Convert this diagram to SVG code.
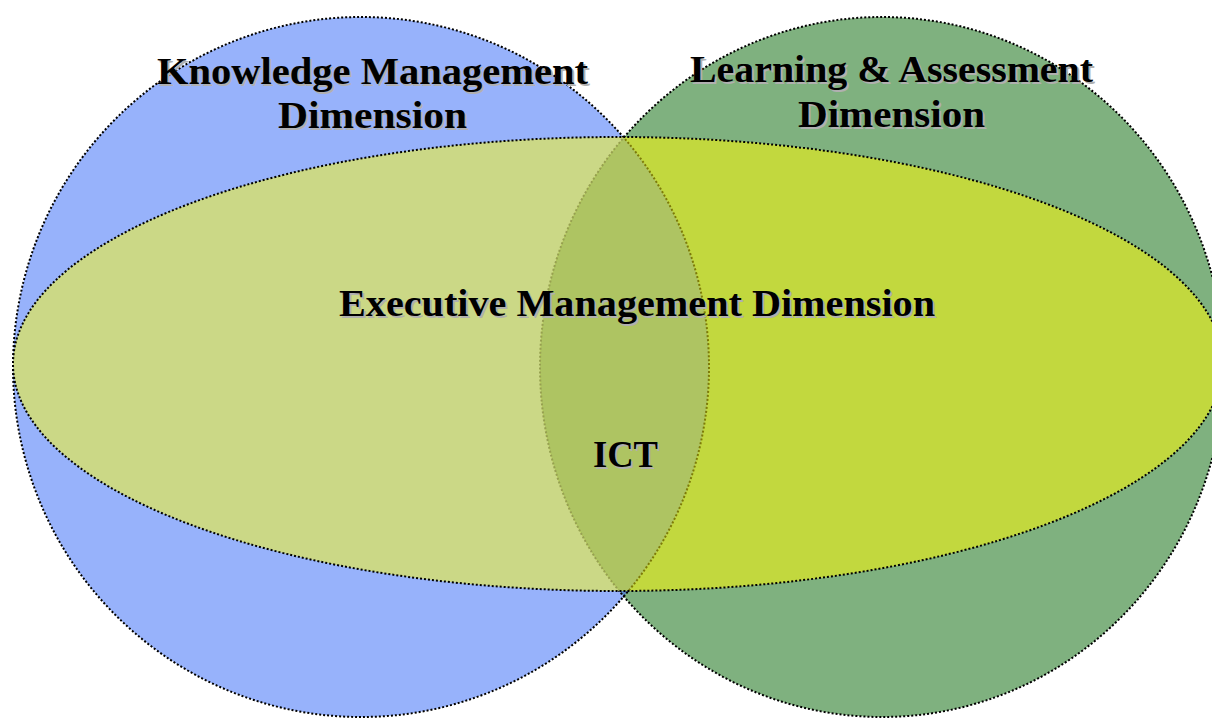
<svg xmlns="http://www.w3.org/2000/svg" width="1212" height="720" viewBox="0 0 1212 720">
  <style>
    .dot { fill: none; stroke-width: 2; stroke-dasharray: 2 2; }
    .ink { stroke: #000; }
    .label { font-family: "Liberation Serif", "Times New Roman", serif; font-weight: bold; font-size: 38px; text-anchor: middle; }
    .shadow { fill: #b0b0b0; }
    .txt { fill: #000; }
  </style>
  <defs>
    <clipPath id="clipL"><ellipse cx="361" cy="367" rx="348" ry="350"/></clipPath>
    <clipPath id="clipR"><ellipse cx="882" cy="367" rx="342" ry="350"/></clipPath>
    <clipPath id="clipE"><ellipse cx="618" cy="364" rx="605" ry="227"/></clipPath>
  </defs>

  <rect width="1212" height="720" fill="#fff"/>

  <!-- Knowledge Management circle -->
  <g id="knowledge">
    <ellipse cx="361" cy="367" rx="348" ry="350" fill="#97b2fb"/>
  </g>

  <!-- Learning & Assessment circle -->
  <g id="learning">
    <ellipse cx="882" cy="367" rx="342" ry="350" fill="#7fb17f"/>
  </g>

  <!-- overlap of the two circles (ICT) -->
  <g id="ict">
    <ellipse cx="882" cy="367" rx="342" ry="350" fill="#5b86c4" clip-path="url(#clipL)"/>
  </g>

  <!-- circle outlines -->
  <g id="circle-outlines">
    <ellipse class="dot ink" cx="361" cy="367" rx="348" ry="350"/>
    <ellipse class="dot ink" cx="882" cy="367" rx="342" ry="350"/>
  </g>

  <!-- Executive Management band -->
  <g id="executive">
    <ellipse cx="618" cy="364" rx="605" ry="227" fill="#cbd886"/>
    <ellipse cx="618" cy="364" rx="605" ry="227" fill="#c2d83e" clip-path="url(#clipR)"/>
    <g clip-path="url(#clipR)">
      <ellipse cx="618" cy="364" rx="605" ry="227" fill="#aec462" clip-path="url(#clipL)"/>
    </g>
    <!-- circle edges seen through the band -->
    <g clip-path="url(#clipE)">
      <ellipse class="dot" stroke="#7d7a08" cx="361" cy="367" rx="348" ry="350"/>
      <ellipse class="dot" stroke="#96a050" cx="882" cy="367" rx="342" ry="350"/>
    </g>
    <ellipse class="dot ink" cx="618" cy="364" rx="605" ry="227"/>
  </g>

  <!-- labels -->
  <g id="labels" class="label">
    <g class="shadow" transform="translate(2,2)">
      <text x="372.5" y="84" textLength="431" lengthAdjust="spacingAndGlyphs">Knowledge Management</text>
      <text x="372.5" y="128" textLength="189" lengthAdjust="spacingAndGlyphs">Dimension</text>
      <text x="891.5" y="82" textLength="403" lengthAdjust="spacingAndGlyphs">Learning &amp; Assessment</text>
      <text x="891.5" y="127" textLength="187" lengthAdjust="spacingAndGlyphs">Dimension</text>
      <text x="637" y="316" textLength="596" lengthAdjust="spacingAndGlyphs">Executive Management Dimension</text>
      <text x="625.5" y="467" textLength="65" lengthAdjust="spacingAndGlyphs">ICT</text>
    </g>
    <g class="txt">
      <text x="372.5" y="84" textLength="431" lengthAdjust="spacingAndGlyphs">Knowledge Management</text>
      <text x="372.5" y="128" textLength="189" lengthAdjust="spacingAndGlyphs">Dimension</text>
      <text x="891.5" y="82" textLength="403" lengthAdjust="spacingAndGlyphs">Learning &amp; Assessment</text>
      <text x="891.5" y="127" textLength="187" lengthAdjust="spacingAndGlyphs">Dimension</text>
      <text x="637" y="316" textLength="596" lengthAdjust="spacingAndGlyphs">Executive Management Dimension</text>
      <text x="625.5" y="467" textLength="65" lengthAdjust="spacingAndGlyphs">ICT</text>
    </g>
  </g>
</svg>
